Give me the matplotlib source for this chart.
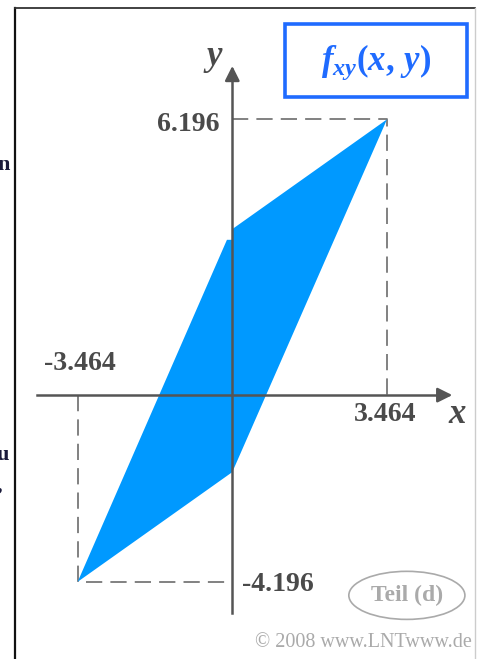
import numpy as np
import matplotlib.pyplot as plt
from matplotlib.patches import Polygon, Rectangle, Ellipse

plt.rcParams['mathtext.fontset'] = 'custom'
plt.rcParams['mathtext.it'] = 'Liberation Serif:italic:bold'
plt.rcParams['mathtext.rm'] = 'Liberation Serif:bold'
plt.rcParams['mathtext.bf'] = 'Liberation Serif:bold'

# Eckpunkte des Gebietes, in dem f_xy(x, y) nicht verschwindet
x_lim = 3.464
y_max = 6.196
y_min = -4.196
region_x = [3.464, 0.0, 0.0, -0.12, -3.464, 0.0]
region_y = [6.196, 3.73, 3.49, 3.49, -4.196, -1.73]

# Achsenbeschriftungen
tick_labels = ["6.196", "-3.464", "3.464", "-4.196"]

gray = '#4a4a4a'
blue = '#1f6bff'
fill = '#0099ff'

fig = plt.figure(figsize=(4.8, 6.59), dpi=100)
ax = fig.add_axes([0, 0, 1, 1])
ax.set_xlim(-5.203, 5.548)
ax.set_ylim(-5.930, 8.879)
ax.axis('off')

# Gebiet
ax.add_patch(Polygon(np.column_stack([region_x, region_y]), closed=True,
                     facecolor=fill, edgecolor='none', zorder=2))

# gestrichelte Hilfslinien
dash = dict(color='#777777', lw=1.3, ls=(0, (9, 4.5)), zorder=1)
ax.plot([0, x_lim, x_lim], [y_max, y_max, 0], **dash)
ax.plot([-x_lim, -x_lim, 0], [0, y_min, y_min], **dash)

# Koordinatenachsen
ax.plot([-4.374, 4.7], [0, 0], color='#555555', lw=1.8, zorder=3)
ax.plot([0, 0], [-4.897, 7.2], color='#555555', lw=1.8, zorder=3)
ax.annotate('', xy=(4.99, 0), xytext=(4.6, 0),
            arrowprops=dict(arrowstyle='-|>', color='#555555', lw=1.8,
                            mutation_scale=22), zorder=3)
ax.annotate('', xy=(0, 7.46), xytext=(0, 7.0),
            arrowprops=dict(arrowstyle='-|>', color='#555555', lw=1.8,
                            mutation_scale=22), zorder=3)

lab = dict(color=gray, fontsize=20, fontweight='bold', family='Liberation Serif')
ax.text(-0.28, y_max - 0.12, tick_labels[0], ha='right', va='center', **lab)
ax.text(-3.42, 0.72, tick_labels[1], ha='center', va='center', **lab)
ax.text(3.42, -0.44, tick_labels[2], ha='center', va='center', **lab)
ax.text(0.22, y_min - 0.05, tick_labels[3], ha='left', va='center', **lab)

ax.text(5.05, -0.40, r'$x$', color=gray, fontsize=25, ha='center', va='center')
ax.text(-0.42, 7.58, r'$y$', color=gray, fontsize=25, ha='center', va='center')

# Kästchen mit der Funktionsbezeichnung
ax.add_patch(Rectangle((1.182, 6.70), 4.076, 1.64, transform=ax.transData,
                       facecolor='white', edgecolor=blue, lw=2.6, zorder=4))
ax.text(3.22, 7.48, r'$f_{xy}(x,\,y)$', color=blue, fontsize=25,
        ha='center', va='center', zorder=5)

# Teil (d)
ax.add_patch(Ellipse((3.91, -4.50), 2.6, 1.08, facecolor='none',
                     edgecolor='#aaaaaa', lw=1.2, zorder=4))
ax.text(3.91, -4.50, 'Teil (d)', color='#aaaaaa', fontsize=17, fontweight='bold',
        family='Liberation Serif', ha='center', va='center', zorder=5)

ax.text(5.37, -5.56, '\u00a9 2008 www.LNTwww.de', color='#aaaaaa', fontsize=14.5,
        family='Liberation Serif', ha='right', va='center')

# Rahmen
fig.add_artist(plt.Line2D([15 / 480, 15 / 480], [0, 1 - 8 / 659],
                          color='#111111', lw=1.6))
fig.add_artist(plt.Line2D([15 / 480, 475 / 480], [1 - 8 / 659, 1 - 8 / 659],
                          color='#333333', lw=1.3))
fig.add_artist(plt.Line2D([475 / 480, 475 / 480], [0, 1 - 8 / 659],
                          color='#cccccc', lw=1.0))

# angeschnittener Fließtext links
for yy, s in [(165, 'n'), (455, 'u'), (486, ',')]:
    fig.text(-3 / 480, 1 - yy / 659, s, color='#1a1a3a', fontsize=16,
             family='Liberation Serif', fontweight='bold', ha='left', va='center')

fig.savefig('out.png', dpi=100)
